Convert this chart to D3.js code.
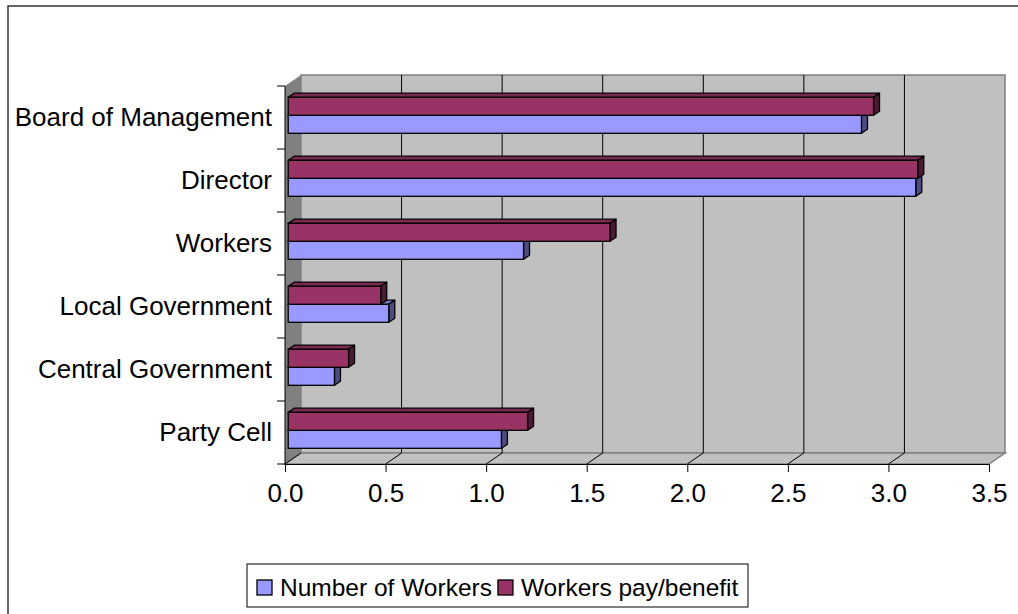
<!DOCTYPE html>
<html>
<head>
<meta charset="utf-8">
<script src="https://cdn.jsdelivr.net/npm/d3@7"></script>
<style>
  body { margin: 0; background: #fff; }
  text { font-family: "Liberation Sans", Arial, sans-serif; fill: #000; }
</style>
</head>
<body>
<script>
// categories top to bottom
const categories = ["Board of Management", "Director", "Workers", "Local Government", "Central Government", "Party Cell"];
const seriesNames = ["Number of Workers", "Workers pay/benefit"];
const numberOfWorkers = [2.85, 3.12, 1.17, 0.50, 0.23, 1.06];
const workersPay = [2.91, 3.13, 1.60, 0.46, 0.30, 1.19];
const xTicks = [0, 0.5, 1.0, 1.5, 2.0, 2.5, 3.0, 3.5];

const seriesValues = [numberOfWorkers, workersPay];
const colors = {
    "Number of Workers": {face: "#9999FF", top: "#7A7ACC", side: "#4C4C80"},
    "Workers pay/benefit": {face: "#993366", top: "#7A2952", side: "#4C1A33"}
};

const width = 1018, height = 614;
// depth offset of the back wall
const DX = 16, DY = -11;

var svg = d3.select("body").append("svg")
    .attr("width", width)
    .attr("height", height);

// outer chart frame
svg.append("rect")
    .attr("x", 8).attr("y", 6)
    .attr("width", 1030).attr("height", 630)
    .attr("fill", "#fff")
    .attr("stroke", "#333")
    .attr("stroke-width", 1.5);

var x = d3.scaleLinear().domain([0, 3.5]).range([285, 989]);
var y = d3.scaleBand().domain(categories).range([86, 464]);
var ySub = d3.scaleBand()
    .domain(["Workers pay/benefit", "Number of Workers"])
    .range([0, y.bandwidth()])
    .paddingOuter(0.75);

const top0 = y.range()[0], bot0 = y.range()[1];
const x0 = x(0), x1 = x(3.5);

// side wall
svg.append("polygon")
    .attr("points", [[x0, top0], [x0 + DX, top0 + DY], [x0 + DX, bot0 + DY], [x0, bot0]].join(" "))
    .attr("fill", "#808080");

// back wall
svg.append("rect")
    .attr("x", x0 + DX).attr("y", top0 + DY)
    .attr("width", x1 - x0).attr("height", bot0 - top0)
    .attr("fill", "#C0C0C0")
    .attr("stroke", "#808080")
    .attr("stroke-width", 1.5);

// floor
svg.append("polygon")
    .attr("points", [[x0, bot0], [x0 + DX, bot0 + DY], [x1 + DX, bot0 + DY], [x1, bot0]].join(" "))
    .attr("fill", "#C0C0C0")
    .attr("stroke", "#808080")
    .attr("stroke-width", 1.5);

// gridlines on back wall
svg.append("g").selectAll("line")
    .data(xTicks.filter(d => d > 0 && d < 3.5))
    .enter().append("line")
    .attr("x1", d => x(d) + DX).attr("x2", d => x(d) + DX)
    .attr("y1", top0 + DY).attr("y2", bot0 + DY)
    .attr("stroke", "#000");

// floor diagonals
svg.append("g").selectAll("line")
    .data(xTicks.filter(d => d < 3.5))
    .enter().append("line")
    .attr("x1", d => x(d)).attr("y1", bot0)
    .attr("x2", d => x(d) + DX).attr("y2", bot0 + DY)
    .attr("stroke", "#000");

// bars: depth of the bar front face and its thickness
const fd = 0.2, bd = 0.575;
const fdx = DX * fd, fdy = DY * fd;
const bdx = DX * (bd - fd), bdy = DY * (bd - fd);

var barData = [];
categories.forEach(function (c, i) {
    // lower series first so the upper one covers its top face
    ["Number of Workers", "Workers pay/benefit"].forEach(function (s) {
        barData.push({cat: c, series: s, value: seriesValues[seriesNames.indexOf(s)][i]});
    });
});

var bars = svg.append("g").selectAll("g")
    .data(barData)
    .enter().append("g");

function geom(d) {
    const xa = x(0) + fdx, xb = x(d.value) + fdx;
    const ya = y(d.cat) + ySub(d.series) + fdy, yb = ya + ySub.bandwidth();
    return {xa, xb, ya, yb};
}

bars.append("polygon")
    .attr("points", function (d) {
        const g = geom(d);
        return [[g.xa, g.ya], [g.xa + bdx, g.ya + bdy], [g.xb + bdx, g.ya + bdy], [g.xb, g.ya]].join(" ");
    })
    .attr("fill", d => colors[d.series].top)
    .attr("stroke", "#000").attr("stroke-width", 1.3).attr("stroke-linejoin", "round");

bars.append("polygon")
    .attr("points", function (d) {
        const g = geom(d);
        return [[g.xb, g.ya], [g.xb + bdx, g.ya + bdy], [g.xb + bdx, g.yb + bdy], [g.xb, g.yb]].join(" ");
    })
    .attr("fill", d => colors[d.series].side)
    .attr("stroke", "#000").attr("stroke-width", 1.3).attr("stroke-linejoin", "round");

bars.append("rect")
    .attr("x", d => geom(d).xa)
    .attr("y", d => geom(d).ya)
    .attr("width", d => geom(d).xb - geom(d).xa)
    .attr("height", ySub.bandwidth())
    .attr("fill", d => colors[d.series].face)
    .attr("stroke", "#000").attr("stroke-width", 1.3);

// x axis
var xAxis = svg.append("g")
    .attr("transform", "translate(0," + bot0 + ")")
    .call(d3.axisBottom(x).tickValues(xTicks).tickSize(8).tickPadding(12).tickFormat(d3.format(".1f")));
xAxis.selectAll("text").attr("font-size", "26px").attr("font-family", "Liberation Sans, Arial, sans-serif");
xAxis.selectAll("line, path").attr("stroke", "#000");

// y axis: labels at band centres, ticks at band edges
var yAxis = svg.append("g")
    .attr("transform", "translate(" + x0 + ",0)")
    .call(d3.axisLeft(y).tickSize(0).tickPadding(13));
yAxis.select(".domain").remove();
yAxis.selectAll("text").attr("font-size", "26px").attr("font-family", "Liberation Sans, Arial, sans-serif");

var edges = categories.map(c => y(c)).concat([bot0]);
svg.append("g").selectAll("line")
    .data(edges)
    .enter().append("line")
    .attr("x1", x0 - 8).attr("x2", x0)
    .attr("y1", d => d).attr("y2", d => d)
    .attr("stroke", "#000");
svg.append("line")
    .attr("x1", x0).attr("x2", x0)
    .attr("y1", top0).attr("y2", bot0)
    .attr("stroke", "#000");

// legend
var legend = svg.append("g");
legend.append("rect")
    .attr("x", 247).attr("y", 564)
    .attr("width", 501).attr("height", 43)
    .attr("fill", "#fff")
    .attr("stroke", "#000");

var lx = 257;
seriesNames.forEach(function (s) {
    legend.append("rect")
        .attr("x", lx).attr("y", 580)
        .attr("width", 15).attr("height", 15)
        .attr("fill", colors[s].face)
        .attr("stroke", "#000").attr("stroke-width", 1.3);
    var t = legend.append("text")
        .attr("x", lx + 23).attr("y", 596)
        .attr("font-size", "24.5px")
        .text(s);
    lx += 23 + t.node().getComputedTextLength() + 6;
});
</script>
</body>
</html>
